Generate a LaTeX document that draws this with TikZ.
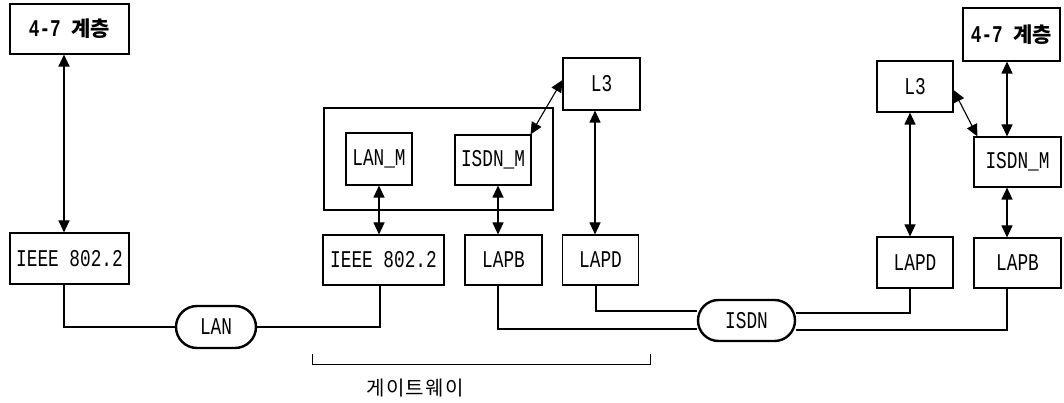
\documentclass[tikz,border=0pt]{standalone}
\usepackage{fontspec}
\newfontfamily\kr{Noto Sans CJK KR}
\newfontfamily\krsp{Noto Sans CJK KR}[LetterSpace=6]
\newfontfamily\lab{Liberation Mono}[FakeStretch=0.74]
\usetikzlibrary{arrows.meta,shapes.misc}
\begin{document}
\begin{tikzpicture}[x=1pt,y=-1pt,
  box/.style={draw,line width=1.1pt,inner sep=0pt,font=\fontsize{24}{28}\selectfont\lab},
  bubble/.style={draw,rounded rectangle,line width=2.4pt,inner sep=0pt,font=\fontsize{24}{28}\selectfont\lab},
  dbl/.style={{Triangle[length=12pt,width=11pt]}-{Triangle[length=12pt,width=11pt]},line width=1.1pt},
  wire/.style={line width=1.1pt}]
\useasboundingbox (0,0) rectangle (1064,403);
% left station
\node[box,minimum width=119pt,minimum height=50pt] (top47L) at (69.5,29) {\bfseries 4-7 {\fontsize{21}{24}\selectfont\kr 계층}};
\node[box,minimum width=119pt,minimum height=51pt] (ieeeL) at (69.5,258.5) {IEEE 802.2};
\node[bubble,minimum width=80pt,minimum height=42pt] (lan) at (216,327) {LAN};
% gateway
\node[draw,line width=1.1pt,minimum width=229pt,minimum height=102pt,inner sep=0pt] (gw) at (438.5,159) {};
\node[box,minimum width=66pt,minimum height=52pt] (lanM) at (379,159) {LAN\_M};
\node[box,minimum width=76pt,minimum height=50pt] (isdnMM) at (493,160) {ISDN\_M};
\node[box,minimum width=77pt,minimum height=52pt] (l3M) at (601.5,84) {L3};
\node[box,minimum width=121pt,minimum height=50pt] (ieeeM) at (383.5,260) {IEEE 802.2};
\node[box,minimum width=77pt,minimum height=50pt] (lapbM) at (503.5,260) {LAPB};
\node[box,minimum width=76pt,minimum height=50pt] (lapdM) at (600.5,260) {LAPD};
\node[bubble,minimum width=97pt,minimum height=41pt] (isdn) at (746.5,320.5) {ISDN};
% right station
\node[box,minimum width=76pt,minimum height=51pt] (lapdR) at (915,262.5) {LAPD};
\node[box,minimum width=87pt,minimum height=50pt] (lapbR) at (1017.5,263) {LAPB};
\node[box,minimum width=87pt,minimum height=50pt] (isdnMR) at (1017.5,162) {ISDN\_M};
\node[box,minimum width=76pt,minimum height=51pt] (l3R) at (915,86.5) {L3};
\node[box,minimum width=97pt,minimum height=53pt] (top47R) at (1011.5,34.5) {\bfseries 4-7 {\fontsize{21}{24}\selectfont\kr 계층}};
% arrows
\draw[dbl] ([xshift=-5.5pt]top47L.south) -- ([xshift=-5.5pt]ieeeL.north);
\draw[dbl] (lanM.south) -- ([xshift=-4.5pt]ieeeM.north);
\draw[dbl] ([xshift=5pt]isdnMM.south) -- ([xshift=-5.5pt]lapbM.north);
\draw[dbl] ([xshift=-6.5pt]l3M.south) -- ([xshift=-5.5pt]lapdM.north);
\draw[dbl] ([yshift=4pt]l3M.west) -- ([xshift=-1pt]isdnMM.north east);
\draw[dbl] ([xshift=-5pt]l3R.south) -- ([xshift=-5pt]lapdR.north);
\draw[dbl] ([xshift=-4.5pt]top47R.south) -- ([xshift=-10.5pt]isdnMR.north);
\draw[dbl] ([xshift=-10.5pt]isdnMR.south) -- ([xshift=-10.5pt]lapbR.north);
\draw[dbl] ([yshift=-3.5pt]l3R.east) -- ([xshift=4pt]isdnMR.north west);
% wires
\draw[wire] ([xshift=-5.5pt]ieeeL.south) |- (lan.west);
\draw[wire] (lan.east) -| ([xshift=-3.5pt]ieeeM.south);
\draw[wire] ([xshift=-5.5pt]lapbM.south) |- ([yshift=-8.5pt]isdn.west);
\draw[wire] ([xshift=-4.5pt]lapdM.south) |- ([yshift=9.5pt]isdn.west);
\draw[wire] ([yshift=7.5pt]isdn.east) -| ([xshift=-5pt]lapdR.south);
\draw[wire] ([yshift=-9.5pt]isdn.east) -| ([xshift=-10.5pt]lapbR.south);
% gateway bracket
\draw[line width=1pt] (312,354) -- (312,364) -- (650,364) -- (650,354);
\node[font=\fontsize{20}{24}\selectfont\krsp] (gwlabel) at (415,388) {게이트웨이};
\end{tikzpicture}
\end{document}
